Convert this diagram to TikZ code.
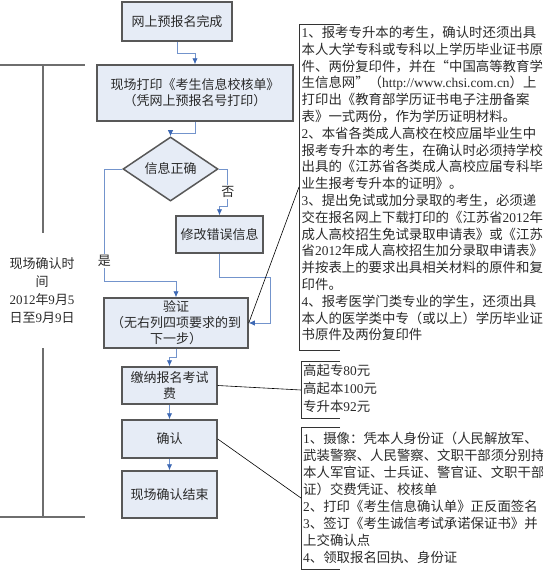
\documentclass[tikz,border=0pt]{standalone}
\usepackage{fontspec}
\setmainfont{Noto Sans CJK SC}
\newfontfamily\romfont{Liberation Serif}
\usepackage{tikz}
\usetikzlibrary{
  shapes.geometric,
  arrows.meta,
  calc
}
\definecolor{boxFill}{HTML}{E6ECF6}
\definecolor{boxLine}{HTML}{585858}
\definecolor{flowLine}{HTML}{7394CC}
\definecolor{tipBlue}{HTML}{3E69B4}
\definecolor{spanLine}{HTML}{6E6E6E}
\definecolor{noteTxt}{HTML}{2A2A2A}
\newcommand{\ltn}[1]{{\romfont #1}}

\begin{document}
\begin{tikzpicture}[
    x=1pt, y=-1pt,
    box/.style={
      rectangle, draw=boxLine, fill=boxFill, line width=1.5pt,
      align=center, inner sep=2pt, text=noteTxt,
      font=\fontsize{13}{16}\selectfont
    },
    dec/.style={
      diamond, draw=boxLine, fill=boxFill, line width=1.5pt,
      minimum width=95pt, minimum height=56pt, inner sep=0pt,
      text=noteTxt, font=\fontsize{13}{16}\selectfont
    },
    flow/.style={-{Latex[length=6pt,width=5.5pt,color=tipBlue]},
      line width=0.9pt, draw=flowLine},
    lbl/.style={fill=white, inner sep=1pt, text=noteTxt,
      font=\fontsize{13}{16}\selectfont},
    callout/.style={line width=0.6pt, draw=black},
    bracket/.style={line width=0.9pt, draw=black!80},
    span/.style={line width=1.4pt, draw=spanLine},
    note/.style={align=left, inner sep=0pt, text=noteTxt, anchor=north west}
    ]

    \useasboundingbox (0,0) rectangle (543,571);

    % flow column
    \node[box, minimum width=110pt, minimum height=39pt] (online) at (177,21.5)
      {网上预报名完成};
    \node[box, minimum width=196pt, minimum height=56pt] (print) at (195,93)
      {现场打印《考生信息校核单》\\（凭网上预报名号打印）};
    \node[dec] (check) at (170.5,169) {信息正确};
    \node[box, minimum width=87pt, minimum height=37pt] (fix) at (219.5,234.5)
      {修改错误信息};
    \node[box, minimum width=144pt, minimum height=50pt] (verify) at (176,323)
      {验证\\（无右列四项要求的到\\下一步）};
    \node[box, minimum width=95pt, minimum height=37pt] (fee) at (169.5,385.5)
      {缴纳报名考试\\费};
    \node[box, minimum width=95pt, minimum height=38pt] (confirm) at (169.5,439)
      {确认};
    \node[box, minimum width=95pt, minimum height=47pt] (finish) at (169.5,494.5)
      {现场确认结束};

    \coordinate (fixturn) at (270,277);

    \draw[flow] (online.south) -- ++(0,12) -| (print.north);
    \draw[flow] (print.south) -- ++(0,12) -| (check.north);
    \draw[flow] (check.east) -- ++(9,0) -- ++(0,37)
      node[lbl, pos=0.62] (no) {否} -| (fix.north);
    \draw[flow] (check.west) -- ++(-18,0) -- ++(0,112)
      node[lbl, pos=0.82] (yes) {是} -| (verify.north);
    \draw[flow] (fix.south) |- (fixturn) |- (verify.east);
    \draw[flow] (verify.south) -- ++(0,9) -| (fee.north);
    \draw[flow] (fee.south) -- (confirm.north);
    \draw[flow] (confirm.south) -- (finish.north);

    % time span on the left
    \node[align=center, text=noteTxt, font=\fontsize{13}{18}\selectfont]
      (period) at (42,290.5)
      {现场确认时\\间\\\ltn{2012}年\ltn{9}月\ltn{5}\\日至\ltn{9}月\ltn{9}日};
    \draw[span] (0,65) -- (85,65);
    \draw[span] (0,517) -- (85,517);
    \draw[span] (43,65) -- (43,233);
    \draw[span] (43,348) -- (43,517);

    % notes on the right
    \coordinate (n1) at (299,187);
    \coordinate (n2) at (301,390);
    \coordinate (n3) at (301,498);

    \draw[bracket] (340,24) -- (299,24) -- (299,350) -- (340,350);
    \draw[bracket] (340,361) -- (301,361) -- (301,418) -- (340,418);
    \draw[bracket] (340,427) -- (301,427) -- (301,569) -- (340,569);

    \node[note, font=\fontsize{13.4}{16.8}\selectfont] (docs) at (301.5,26)
      {\ltn{1}、报考专升本的考生，确认时还须出具\\
       本人大学专科或专科以上学历毕业证书原\\
       件、两份复印件，并在“中国高等教育学\\
       生信息网”（\ltn{http://www.chsi.com.cn}）上\\
       打印出《教育部学历证书电子注册备案\\
       表》一式两份，作为学历证明材料。\\
       \ltn{2}、本省各类成人高校在校应届毕业生中\\
       报考专升本的考生，在确认时必须持学校\\
       出具的《江苏省各类成人高校应届专科毕\\
       业生报考专升本的证明》。\\
       \ltn{3}、提出免试或加分录取的考生，必须递\\
       交在报名网上下载打印的《江苏省\ltn{2012}年\\
       成人高校招生免试录取申请表》或《江苏\\
       省\ltn{2012}年成人高校招生加分录取申请表》\\
       并按表上的要求出具相关材料的原件和复\\
       印件。\\
       \ltn{4}、报考医学门类专业的学生，还须出具\\
       本人的医学类中专（或以上）学历毕业证\\
       书原件及两份复印件};
    \node[note, font=\fontsize{13.4}{18}\selectfont] (fees) at (303,364)
      {高起专\ltn{80}元\\高起本\ltn{100}元\\专升本\ltn{92}元};
    \node[note, font=\fontsize{13.4}{17}\selectfont] (items) at (303,432)
      {\ltn{1}、摄像：凭本人身份证（人民解放军、\\
       武装警察、人民警察、文职干部须分别持\\
       本人军官证、士兵证、警官证、文职干部\\
       证）交费凭证、校核单\\
       \ltn{2}、打印《考生信息确认单》正反面签名\\
       \ltn{3}、签订《考生诚信考试承诺保证书》并\\
       上交确认点\\
       \ltn{4}、领取报名回执、身份证};

    \draw[callout] (n1) -- (verify.east);
    \draw[callout] (fee.east) -- (n2);
    \draw[callout] (confirm.east) -- (n3);

  \end{tikzpicture}
\end{document}
